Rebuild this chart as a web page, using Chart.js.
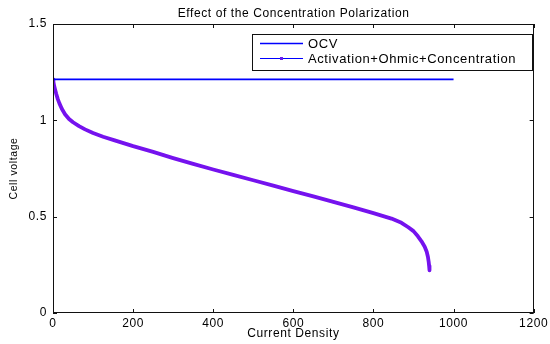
<!DOCTYPE html>
<html>
<head>
<meta charset="utf-8">
<script src="https://cdn.jsdelivr.net/npm/chart.js@4/dist/chart.umd.min.js"></script>
<style>
  html, body { margin: 0; padding: 0; background: #fff; }
  #wrap { width: 550px; height: 344px; }
</style>
</head>
<body>
<div id="wrap"><canvas id="c" width="550" height="344"></canvas></div>
<script>
// ---- data ----
const chartTitle = "Effect of the Concentration Polarization";
const xAxisTitle = "Current Density";
const yAxisTitle = "Cell voltage";
const seriesNames = ["OCV", "Activation+Ohmic+Concentration"];

const xTicks = [0, 200, 400, 600, 800, 1000, 1200];
const yTicks = [0, 0.5, 1, 1.5];

const ocvCurrent = [0, 1000];
const ocvVoltage = [1.213, 1.213];

const currentDensity = [0, 1, 3, 5, 8, 12, 16, 22, 30, 40, 50, 65, 80, 100, 125, 154,
  200, 250, 300, 350, 400, 450, 500, 550, 600, 650, 700, 750, 800, 845, 870, 887,
  900, 911, 920, 928, 933, 936, 938, 939, 940];
const cellVoltage = [1.213, 1.2, 1.178, 1.162, 1.138, 1.11, 1.088, 1.06, 1.032, 1.007, 0.99, 0.97, 0.953, 0.934, 0.915, 0.896,
  0.866, 0.836, 0.804, 0.774, 0.745, 0.717, 0.689, 0.661, 0.633, 0.605, 0.577, 0.548, 0.518, 0.49, 0.468, 0.445,
  0.425, 0.398, 0.372, 0.344, 0.318, 0.292, 0.265, 0.245, 0.222];

const FONT = "'Liberation Sans', Arial, Helvetica, sans-serif";
const AXIS_COLOR = '#111';
const SPACING = '0.6px';

const toPoints = (xs, ys) => xs.map((x, i) => ({ x: x, y: ys[i] }));

const textSpacing = {
  id: 'textSpacing',
  beforeDraw(chart) { chart.ctx.letterSpacing = SPACING; }
};

// title centred over the axes, frame, inward ticks and boxed legend
const matlabFrame = {
  id: 'matlabFrame',
  afterDatasetsDraw(chart) {
    const { ctx, chartArea: a, scales } = chart;
    const xs = scales.x, ys = scales.y;
    ctx.save();
    ctx.letterSpacing = SPACING;

    // title
    ctx.font = "12px " + FONT;
    ctx.fillStyle = '#000';
    ctx.textAlign = 'center';
    ctx.textBaseline = 'middle';
    ctx.fillText(chartTitle, (a.left + a.right) / 2 + 0.3, 14);

    ctx.strokeStyle = AXIS_COLOR;
    ctx.lineWidth = 1;
    ctx.strokeRect(Math.round(a.left) + 0.5, Math.round(a.top) + 0.5,
      Math.round(a.right - a.left) - 1, Math.round(a.bottom - a.top) - 1);
    const tl = 4;
    ctx.beginPath();
    xTicks.forEach(v => {
      const px = Math.round(xs.getPixelForValue(v)) + 0.5;
      ctx.moveTo(px, a.bottom); ctx.lineTo(px, a.bottom - tl);
      ctx.moveTo(px, a.top); ctx.lineTo(px, a.top + tl);
    });
    yTicks.forEach(v => {
      const py = Math.round(ys.getPixelForValue(v)) + 0.5;
      ctx.moveTo(a.left, py); ctx.lineTo(a.left + tl, py);
      ctx.moveTo(a.right, py); ctx.lineTo(a.right - tl, py);
    });
    ctx.stroke();

    // legend
    const lx = 252.5, ly = 34.5, lw = 280, lh = 36;
    ctx.fillStyle = '#fff';
    ctx.fillRect(lx, ly, lw, lh);
    ctx.strokeStyle = AXIS_COLOR;
    ctx.strokeRect(lx, ly, lw, lh);
    const ds = chart.data.datasets;
    const rows = [43, 58];
    ctx.font = "13px " + FONT;
    ctx.textBaseline = 'middle';
    ctx.textAlign = 'left';
    rows.forEach((y, i) => {
      ctx.strokeStyle = '#0000ff';
      ctx.lineWidth = i === 0 ? 1.5 : 1;
      ctx.beginPath();
      ctx.moveTo(260, y + 0.5); ctx.lineTo(303, y + 0.5);
      ctx.stroke();
      if (i === 1) {
        ctx.fillStyle = '#6a1cf0';
        ctx.fillRect(280, y - 1, 3, 3);
      }
      ctx.fillStyle = '#000';
      ctx.fillText(ds[i].label, 308, y + 1);
    });
    ctx.restore();
  }
};

new Chart(document.getElementById('c'), {
  type: 'line',
  data: {
    datasets: [
      {
        label: seriesNames[0],
        data: toPoints(ocvCurrent, ocvVoltage),
        borderColor: '#0000ff',
        borderWidth: 1.8,
        pointRadius: 0,
        tension: 0
      },
      {
        label: seriesNames[1],
        data: toPoints(currentDensity, cellVoltage),
        borderColor: '#7512ee',
        borderWidth: 3.8,
        pointRadius: 0,
        tension: 0,
        borderCapStyle: 'round',
        borderJoinStyle: 'round'
      }
    ]
  },
  options: {
    responsive: false,
    animation: false,
    devicePixelRatio: 1,
    layout: { padding: { left: 0, right: 13, top: 24, bottom: 0 } },
    plugins: {
      legend: { display: false },
      tooltip: { enabled: false },
      title: { display: false }
    },
    scales: {
      x: {
        type: 'linear',
        min: 0, max: 1200,
        afterBuildTicks: s => { s.ticks = xTicks.map(v => ({ value: v })); },
        afterFit: s => { s.height = 31; },
        grid: { display: false, drawTicks: false },
        border: { display: false },
        ticks: {
          color: '#000',
          padding: 3,
          maxRotation: 0,
          font: { family: FONT, size: 12 },
          callback: v => String(v)
        },
        title: {
          display: true, text: xAxisTitle, color: '#000',
          font: { family: FONT, size: 12 },
          padding: { top: 0, bottom: 3 }
        }
      },
      y: {
        type: 'linear',
        min: 0, max: 1.5,
        afterBuildTicks: s => { s.ticks = yTicks.map(v => ({ value: v })); },
        afterFit: s => { s.width = 53; },
        grid: { display: false, drawTicks: false },
        border: { display: false },
        ticks: {
          color: '#000',
          padding: 6,
          font: { family: FONT, size: 12 },
          callback: v => String(v)
        },
        title: {
          display: true, text: yAxisTitle, color: '#000',
          font: { family: FONT, size: 10.5 },
          padding: { top: 8, bottom: 0 }
        }
      }
    }
  },
  plugins: [textSpacing, matlabFrame]
});
</script>
</body>
</html>
